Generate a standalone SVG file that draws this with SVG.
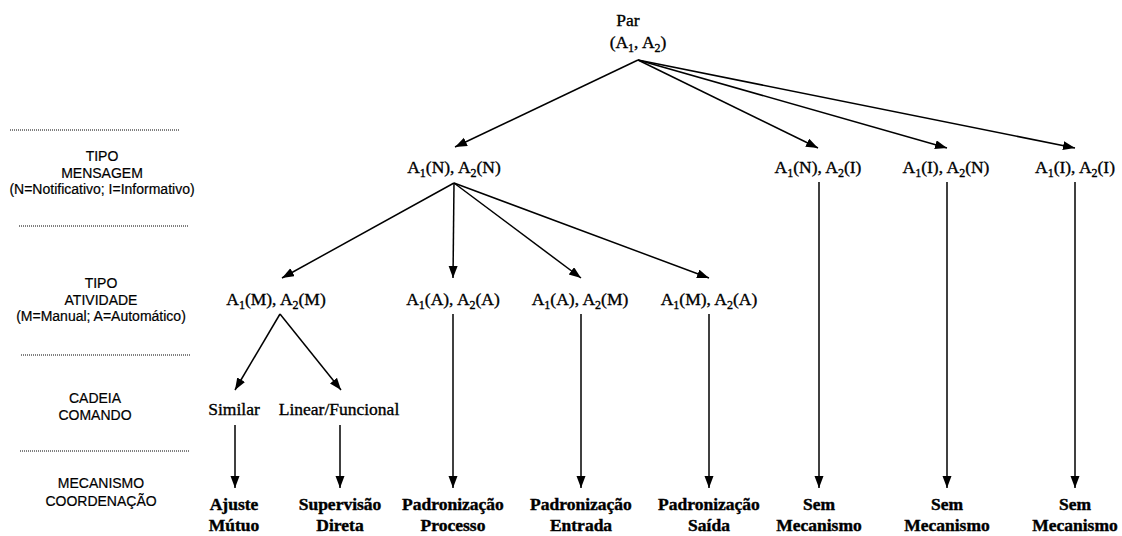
<svg xmlns="http://www.w3.org/2000/svg" width="1122" height="536" viewBox="0 0 1122 536">
  <style>
    .node { font-family: "Liberation Serif", "Times New Roman", serif; font-size: 17.5px; fill: #000; stroke: #000; stroke-width: 0.35px; text-anchor: middle; }
    .leaf { font-family: "Liberation Serif", "Times New Roman", serif; font-size: 17.5px; font-weight: bold; fill: #000; stroke: #000; stroke-width: 0.4px; text-anchor: middle; }
    .axis { font-family: "Liberation Sans", Arial, sans-serif; font-size: 14px; fill: #000; stroke: #000; stroke-width: 0.2px; text-anchor: middle; }
    .sep { stroke: #000; stroke-width: 1; stroke-dasharray: 1 1; fill: none; }
    .edge { stroke: #000; stroke-width: 1.5; fill: none; marker-end: url(#arrow); }
  </style>
  <defs>
    <marker id="arrow" markerUnits="userSpaceOnUse" markerWidth="13" markerHeight="10" refX="12" refY="4.5" orient="auto">
      <path d="M0,0 L12,4.5 L0,9 z" fill="#000"/>
    </marker>
  </defs>
  <rect width="1122" height="536" fill="#fff"/>

  <!-- level captions on the left -->
  <g id="axis-labels">
    <line class="sep" x1="10" y1="130" x2="180" y2="130"/>
    <text class="axis" x="102" y="161">TIPO</text>
    <text class="axis" x="102" y="178">MENSAGEM</text>
    <text class="axis" x="102" y="194">(N=Notificativo; I=Informativo)</text>
    <line class="sep" x1="19" y1="226" x2="189" y2="226"/>
    <text class="axis" x="101" y="288">TIPO</text>
    <text class="axis" x="101" y="305">ATIVIDADE</text>
    <text class="axis" x="101" y="321">(M=Manual; A=Automático)</text>
    <line class="sep" x1="21" y1="355" x2="191" y2="355"/>
    <text class="axis" x="95" y="403">CADEIA</text>
    <text class="axis" x="95" y="420">COMANDO</text>
    <line class="sep" x1="20" y1="451" x2="189" y2="451"/>
    <text class="axis" x="101" y="488">MECANISMO</text>
    <text class="axis" x="101" y="506">COORDENAÇÃO</text>
  </g>

  <!-- connectors -->
  <g id="connectors">
    <line class="edge" x1="638" y1="60" x2="455" y2="147"/>
    <line class="edge" x1="638" y1="60" x2="818" y2="148"/>
    <line class="edge" x1="638" y1="60" x2="947" y2="148"/>
    <line class="edge" x1="638" y1="60" x2="1075" y2="148"/>

    <line class="edge" x1="454" y1="183" x2="282" y2="278"/>
    <line class="edge" x1="454" y1="183" x2="453" y2="278"/>
    <line class="edge" x1="454" y1="183" x2="581" y2="278"/>
    <line class="edge" x1="454" y1="183" x2="709" y2="278"/>

    <line class="edge" x1="819" y1="182" x2="819" y2="488"/>
    <line class="edge" x1="947" y1="182" x2="947" y2="488"/>
    <line class="edge" x1="1075" y1="182" x2="1075" y2="488"/>

    <line class="edge" x1="280" y1="314" x2="235" y2="390"/>
    <line class="edge" x1="280" y1="314" x2="341" y2="390"/>

    <line class="edge" x1="453" y1="314" x2="453" y2="488"/>
    <line class="edge" x1="581" y1="314" x2="581" y2="488"/>
    <line class="edge" x1="709" y1="314" x2="709" y2="488"/>

    <line class="edge" x1="235" y1="425" x2="235" y2="488"/>
    <line class="edge" x1="340" y1="425" x2="340" y2="488"/>
  </g>

  <!-- root -->
  <g id="root">
    <text class="node" x="628" y="26">Par</text>
    <text class="node" x="638" y="48">(A<tspan font-size="12" dy="4">1</tspan><tspan dy="-4">, A</tspan><tspan font-size="12" dy="4">2</tspan><tspan dy="-4">)</tspan></text>
  </g>

  <!-- message type level -->
  <g id="msg-nn">
    <text class="node" x="454" y="173">A<tspan font-size="12" dy="4">1</tspan><tspan dy="-4">(N), A</tspan><tspan font-size="12" dy="4">2</tspan><tspan dy="-4">(N)</tspan></text>
  </g>
  <g id="msg-ni">
    <text class="node" x="818" y="173">A<tspan font-size="12" dy="4">1</tspan><tspan dy="-4">(N), A</tspan><tspan font-size="12" dy="4">2</tspan><tspan dy="-4">(I)</tspan></text>
  </g>
  <g id="msg-in">
    <text class="node" x="946" y="173">A<tspan font-size="12" dy="4">1</tspan><tspan dy="-4">(I), A</tspan><tspan font-size="12" dy="4">2</tspan><tspan dy="-4">(N)</tspan></text>
  </g>
  <g id="msg-ii">
    <text class="node" x="1075" y="173">A<tspan font-size="12" dy="4">1</tspan><tspan dy="-4">(I), A</tspan><tspan font-size="12" dy="4">2</tspan><tspan dy="-4">(I)</tspan></text>
  </g>

  <!-- activity type level -->
  <g id="act-mm">
    <text class="node" x="276" y="305">A<tspan font-size="12" dy="4">1</tspan><tspan dy="-4">(M), A</tspan><tspan font-size="12" dy="4">2</tspan><tspan dy="-4">(M)</tspan></text>
  </g>
  <g id="act-aa">
    <text class="node" x="453" y="305">A<tspan font-size="12" dy="4">1</tspan><tspan dy="-4">(A), A</tspan><tspan font-size="12" dy="4">2</tspan><tspan dy="-4">(A)</tspan></text>
  </g>
  <g id="act-am">
    <text class="node" x="580" y="305">A<tspan font-size="12" dy="4">1</tspan><tspan dy="-4">(A), A</tspan><tspan font-size="12" dy="4">2</tspan><tspan dy="-4">(M)</tspan></text>
  </g>
  <g id="act-ma">
    <text class="node" x="709" y="305">A<tspan font-size="12" dy="4">1</tspan><tspan dy="-4">(M), A</tspan><tspan font-size="12" dy="4">2</tspan><tspan dy="-4">(A)</tspan></text>
  </g>

  <!-- chain of command level -->
  <g id="cmd-similar">
    <text class="node" x="234" y="415">Similar</text>
  </g>
  <g id="cmd-linear">
    <text class="node" x="339" y="415">Linear/Funcional</text>
  </g>

  <!-- coordination mechanisms -->
  <g id="mech-ajuste">
    <text class="leaf" x="234" y="510">Ajuste</text>
    <text class="leaf" x="234" y="531">Mútuo</text>
  </g>
  <g id="mech-supervisao">
    <text class="leaf" x="340" y="510">Supervisão</text>
    <text class="leaf" x="340" y="531">Direta</text>
  </g>
  <g id="mech-processo">
    <text class="leaf" x="453" y="510">Padronização</text>
    <text class="leaf" x="453" y="531">Processo</text>
  </g>
  <g id="mech-entrada">
    <text class="leaf" x="581" y="510">Padronização</text>
    <text class="leaf" x="581" y="531">Entrada</text>
  </g>
  <g id="mech-saida">
    <text class="leaf" x="709" y="510">Padronização</text>
    <text class="leaf" x="709" y="531">Saída</text>
  </g>
  <g id="mech-sem-1">
    <text class="leaf" x="819" y="510">Sem</text>
    <text class="leaf" x="819" y="531">Mecanismo</text>
  </g>
  <g id="mech-sem-2">
    <text class="leaf" x="947" y="510">Sem</text>
    <text class="leaf" x="947" y="531">Mecanismo</text>
  </g>
  <g id="mech-sem-3">
    <text class="leaf" x="1075" y="510">Sem</text>
    <text class="leaf" x="1075" y="531">Mecanismo</text>
  </g>
</svg>
